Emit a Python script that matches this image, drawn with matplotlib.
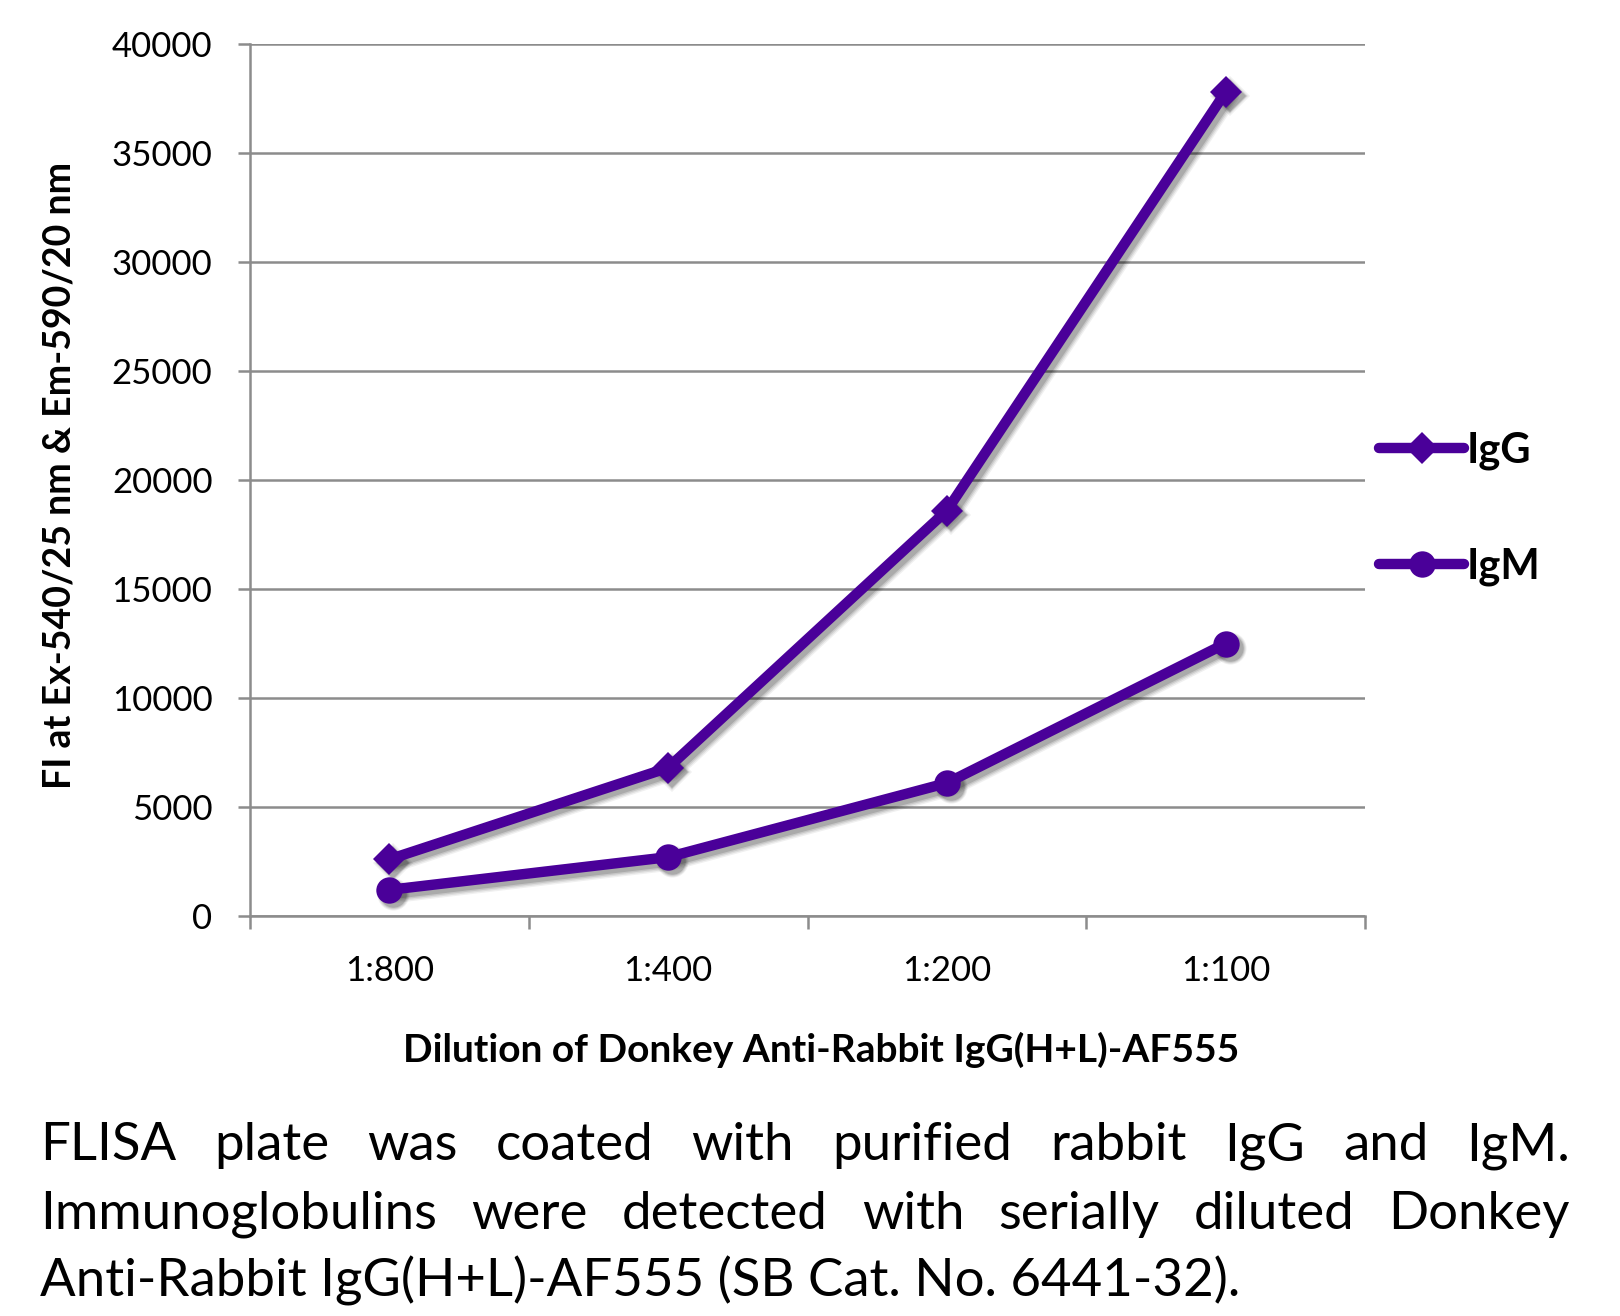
import matplotlib
matplotlib.use("Agg")
import matplotlib.pyplot as plt
from matplotlib.transforms import offset_copy

categories = ["1:800", "1:400", "1:200", "1:100"]
igg = [2600, 6800, 18600, 37800]
igm = [1200, 2700, 6100, 12500]
series_names = ["IgG", "IgM"]
yticks = [0, 5000, 10000, 15000, 20000, 25000, 30000, 35000, 40000]
xlabel = "Dilution of Donkey Anti-Rabbit IgG(H+L)-AF555"
ylabel = "FI at Ex-540/25 nm & Em-590/20 nm"
caption_lines = [
    "FLISA plate was coated with purified rabbit IgG and IgM.",
    "Immunoglobulins were detected with serially diluted Donkey",
    "Anti-Rabbit IgG(H+L)-AF555 (SB Cat. No. 6441-32).",
]

FONT = "Lato"
plt.rcParams['font.family'] = [FONT, 'DejaVu Sans']
W, H = 1620, 1316
fig = plt.figure(figsize=(W / 100, H / 100), dpi=100)
ax = fig.add_axes([250 / W, 1 - 916 / H, (1365 - 250) / W, (916 - 44) / H])

color = "#4a0099"
grid_c = "#8c8c8c"
LW = 7.5

x = list(range(len(categories)))
markers = ["D", "o"]
msizes = [16, 19]
for vals, mk, ms in zip([igg, igm], markers, msizes):
    # soft drop shadow (several stacked translucent copies)
    for lw_extra, a in [(6, 0.06), (4, 0.08), (2, 0.1), (0, 0.14)]:
        tr = offset_copy(ax.transData, fig=fig, x=4, y=-4, units="dots")
        ax.plot(x, vals, color="black", alpha=a, lw=LW + lw_extra, marker=mk,
                ms=ms + lw_extra * 0.7, mew=0, solid_capstyle="round",
                solid_joinstyle="round", transform=tr, zorder=2)

l1, = ax.plot(x, igg, color=color, lw=LW, marker="D", ms=msizes[0], mew=0,
              solid_capstyle="round", label=series_names[0], zorder=3)
l2, = ax.plot(x, igm, color=color, lw=LW, marker="o", ms=msizes[1], mew=0,
              solid_capstyle="round", label=series_names[1], zorder=3)

ax.set_xlim(-0.5, len(categories) - 0.5)
ax.set_ylim(0, 40000)
ax.set_yticks(yticks)
ax.set_yticklabels([str(v) for v in yticks])
ax.yaxis.grid(True, color=grid_c, lw=1.8)
ax.set_axisbelow(True)
for s in ["top", "right"]:
    ax.spines[s].set_visible(False)
for s in ["left", "bottom"]:
    ax.spines[s].set_color(grid_c)
    ax.spines[s].set_linewidth(1.8)

ax.set_xticks([i - 0.5 for i in range(len(categories) + 1)])
ax.set_xticklabels([])
ax.set_xticks(x, minor=True)
ax.set_xticklabels(categories, minor=True)
ax.tick_params(axis="x", which="major", length=9, width=1.8, color=grid_c, direction="out")
ax.tick_params(axis="x", which="minor", length=0, pad=28, labelsize=25)
ax.tick_params(axis="y", length=9, width=1.8, color=grid_c, pad=18, labelsize=25)

fig.text(821 / W, 1 - 1050 / H, xlabel, ha="center", va="center", fontsize=28,
         fontweight="bold")
fig.text(60 / W, 1 - 475 / H, ylabel, ha="center", va="center", fontsize=27,
         fontweight="bold", rotation=90)

leg = ax.legend(handles=[l1, l2], loc="center left",
                bbox_to_anchor=(1379 / W, 1 - 509 / H),
                bbox_transform=fig.transFigure, frameon=False,
                prop={"weight": "bold", "size": 30}, handlelength=2.05,
                handletextpad=0.05, labelspacing=1.85, borderpad=0,
                borderaxespad=0)

# Justified caption
fs = 38
left_px, right_px = 40, 1570
line_y = [1160, 1229, 1297]
renderer = fig.canvas.get_renderer()
for i, line in enumerate(caption_lines):
    words = line.split(" ")
    yy = 1 - line_y[i] / H
    if i == len(caption_lines) - 1:
        fig.text(left_px / W, yy, line, fontsize=fs, ha="left", va="baseline")
        continue
    texts = [fig.text(0, yy, w, fontsize=fs, ha="left", va="baseline") for w in words]
    widths = [t.get_window_extent(renderer).width for t in texts]
    gap = (right_px - left_px - sum(widths)) / (len(words) - 1)
    xpos = left_px
    for t, w in zip(texts, widths):
        t.set_x(xpos / W)
        xpos += w + gap

fig.savefig("out.png", dpi=100, facecolor="white")
